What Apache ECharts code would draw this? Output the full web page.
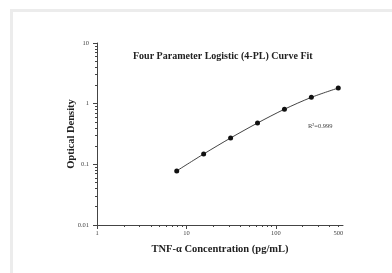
<!DOCTYPE html>
<html>
<head>
<meta charset="utf-8">
<script src="https://cdn.jsdelivr.net/npm/echarts@6/dist/echarts.min.js"></script>
<style>
  html, body { margin: 0; padding: 0; background: #fff; }
  #chart { width: 392px; height: 273px; }
</style>
</head>
<body>
<div id="chart"></div>
<script>
// standard concentrations (pg/mL) and measured OD
const concentration = [7.8, 15.6, 31.25, 62.5, 125, 250, 500]
const opticalDensity = [0.078, 0.148, 0.272, 0.48, 0.81, 1.27, 1.81]

const xLabels = [1, 10, 100, 500]
const xMinor = [2, 3, 4, 5, 6, 7, 8, 9, 20, 30, 40, 50, 60, 70, 80, 90, 200, 300, 400, 500]
const yLabels = [0.01, 0.1, 1, 10]
const yMinor = [0.02, 0.03, 0.04, 0.05, 0.06, 0.07, 0.08, 0.09,
  0.2, 0.3, 0.4, 0.5, 0.6, 0.7, 0.8, 0.9, 2, 3, 4, 5, 6, 7, 8, 9]

const serif = '"Liberation Serif", "Times New Roman", serif'
const tickLabel = { fontFamily: serif, fontSize: 6.5, color: '#444' }

const chart = echarts.init(document.getElementById('chart'))

chart.setOption({
  animation: false,
  backgroundColor: '#fff',
  title: {
    text: 'Four Parameter Logistic (4-PL) Curve Fit',
    left: 128,
    top: 46,
    textStyle: { fontFamily: serif, fontSize: 10, fontWeight: 'bold', color: '#222' }
  },
  graphic: [
    // light frame at top-left of the panel
    { type: 'rect', shape: { x: 10, y: 9, width: 390, height: 3 }, style: { fill: '#ececec' } },
    { type: 'rect', shape: { x: 10, y: 9, width: 3, height: 270 }, style: { fill: '#ececec' } },
    {
      type: 'text',
      left: 308,
      top: 123,
      style: { text: 'R²=0.999', fontFamily: serif, fontSize: 6.5, fill: '#444' }
    }
  ],
  grid: { left: 97, top: 43, width: 246, height: 182 },
  xAxis: [
    {
      type: 'log',
      min: 1,
      max: 565,
      name: 'TNF-α Concentration (pg/mL)',
      nameLocation: 'middle',
      nameGap: 19,
      nameTextStyle: { fontFamily: serif, fontSize: 10.5, fontWeight: 'bold', color: '#222' },
      axisLine: { lineStyle: { color: '#444', width: 1 } },
      axisTick: { customValues: [1, 10, 100], length: 4, lineStyle: { color: '#444' } },
      axisLabel: Object.assign({ customValues: xLabels, margin: 5, formatter: v => String(v) }, tickLabel),
      splitLine: { show: false }
    },
    {
      type: 'log',
      min: 1,
      max: 565,
      position: 'bottom',
      axisLine: { show: false },
      axisTick: { customValues: xMinor, length: 2, lineStyle: { color: '#444' } },
      axisLabel: { show: false },
      splitLine: { show: false }
    }
  ],
  yAxis: [
    {
      type: 'log',
      min: 0.01,
      max: 10,
      name: 'Optical Density',
      nameLocation: 'middle',
      nameGap: 20,
      nameMoveOverlap: false,
      nameTextStyle: { fontFamily: serif, fontSize: 10.5, fontWeight: 'bold', color: '#222' },
      axisLine: { show: true, lineStyle: { color: '#444', width: 1 } },
      axisTick: { show: true, customValues: yLabels, length: 4, lineStyle: { color: '#444' } },
      axisLabel: Object.assign({ customValues: yLabels, margin: 8, formatter: v => String(v) }, tickLabel),
      splitLine: { show: false }
    },
    {
      type: 'log',
      min: 0.01,
      max: 10,
      position: 'left',
      axisLine: { show: false },
      axisTick: { show: true, customValues: yMinor, length: 2, lineStyle: { color: '#444' } },
      axisLabel: { show: false },
      splitLine: { show: false }
    }
  ],
  series: [
    {
      type: 'line',
      smooth: 0.3,
      symbol: 'circle',
      symbolSize: 5,
      itemStyle: { color: '#111' },
      lineStyle: { color: '#444', width: 1 },
      data: concentration.map((c, i) => [c, opticalDensity[i]])
    }
  ]
})
</script>
</body>
</html>
